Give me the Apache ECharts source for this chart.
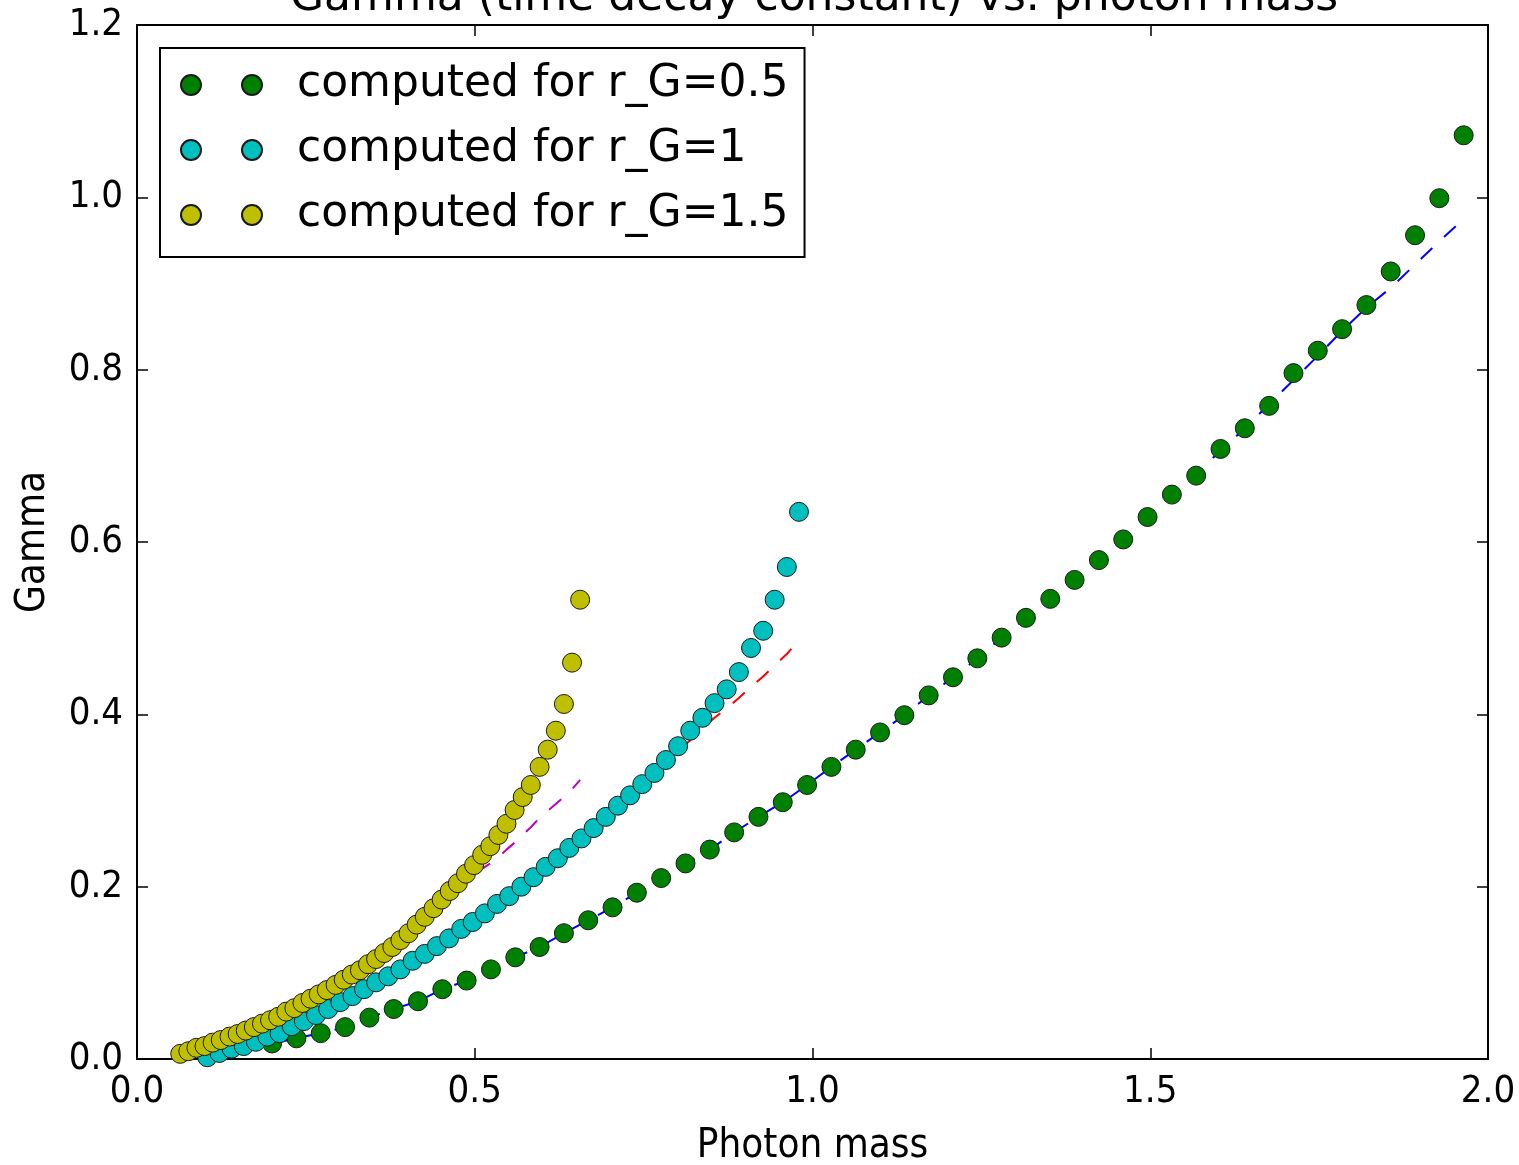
<!DOCTYPE html>
<html>
<head>
<meta charset="utf-8">
<title>Gamma vs photon mass</title>
<script src="https://cdn.jsdelivr.net/npm/echarts@6/dist/echarts.min.js"></script>
<style>
  html, body { margin: 0; padding: 0; background: #fff; }
  #chart { width: 1519px; height: 1165px; }
</style>
</head>
<body>
<div id="chart"></div>
<script>
// r_G = 0.5 (green points, blue dashed fit)
const massG05 = [0.200, 0.236, 0.272, 0.308, 0.344, 0.380, 0.416, 0.452, 0.488, 0.524,
  0.560, 0.596, 0.632, 0.668, 0.704, 0.740, 0.776, 0.812, 0.848, 0.884,
  0.920, 0.956, 0.992, 1.028, 1.064, 1.100, 1.136, 1.172, 1.208, 1.244,
  1.280, 1.316, 1.352, 1.388, 1.424, 1.460, 1.496, 1.532, 1.568, 1.604,
  1.640, 1.676, 1.712, 1.748, 1.784, 1.820, 1.856, 1.892, 1.928, 1.964];
const gammaG05 = [0.018, 0.024, 0.030, 0.037, 0.048, 0.058, 0.067, 0.081, 0.091, 0.104,
  0.118, 0.130, 0.146, 0.161, 0.176, 0.193, 0.210, 0.227, 0.243, 0.263,
  0.281, 0.298, 0.318, 0.339, 0.359, 0.379, 0.399, 0.422, 0.443, 0.465,
  0.489, 0.512, 0.534, 0.556, 0.579, 0.603, 0.629, 0.655, 0.677, 0.708,
  0.732, 0.758, 0.796, 0.822, 0.847, 0.875, 0.914, 0.956, 0.999, 1.072];
const fitG05 = [0.018, 0.024, 0.030, 0.037, 0.048, 0.058, 0.067, 0.081, 0.091, 0.104,
  0.118, 0.130, 0.146, 0.161, 0.176, 0.193, 0.210, 0.227, 0.243, 0.263,
  0.281, 0.298, 0.318, 0.339, 0.359, 0.379, 0.399, 0.422, 0.443, 0.465,
  0.489, 0.512, 0.534, 0.556, 0.579, 0.603, 0.629, 0.655, 0.679, 0.706,
  0.732, 0.760, 0.788, 0.816, 0.845, 0.872, 0.895, 0.922, 0.949, 0.975];

// r_G = 1 (cyan points, red dashed fit)
const massG1 = [0.104, 0.122, 0.140, 0.158, 0.176, 0.193, 0.211, 0.229, 0.247, 0.265,
  0.283, 0.301, 0.319, 0.336, 0.354, 0.372, 0.390, 0.408, 0.426, 0.444,
  0.462, 0.480, 0.497, 0.515, 0.533, 0.551, 0.569, 0.587, 0.605, 0.623,
  0.640, 0.658, 0.676, 0.694, 0.712, 0.730, 0.748, 0.766, 0.783, 0.801,
  0.819, 0.837, 0.855, 0.873, 0.891, 0.909, 0.927, 0.944, 0.962, 0.980];
const gammaG1 = [0.002, 0.007, 0.012, 0.015, 0.020, 0.026, 0.030, 0.038, 0.044, 0.051,
  0.058, 0.066, 0.073, 0.081, 0.089, 0.096, 0.104, 0.114, 0.122, 0.131,
  0.140, 0.151, 0.159, 0.169, 0.180, 0.189, 0.200, 0.211, 0.223, 0.233,
  0.245, 0.256, 0.268, 0.281, 0.294, 0.306, 0.319, 0.332, 0.347, 0.363,
  0.381, 0.396, 0.413, 0.429, 0.449, 0.477, 0.497, 0.533, 0.571, 0.635];
const fitG1 = [0.002, 0.007, 0.012, 0.015, 0.020, 0.026, 0.030, 0.038, 0.044, 0.051,
  0.058, 0.066, 0.073, 0.081, 0.089, 0.096, 0.104, 0.114, 0.122, 0.131,
  0.140, 0.151, 0.159, 0.169, 0.180, 0.189, 0.200, 0.211, 0.223, 0.233,
  0.245, 0.256, 0.268, 0.281, 0.294, 0.306, 0.319, 0.332, 0.345, 0.357,
  0.370, 0.384, 0.396, 0.407, 0.419, 0.432, 0.444, 0.457, 0.470, 0.486];

// r_G = 1.5 (yellow points, magenta dashed fit)
const massG15 = [0.064, 0.076, 0.088, 0.100, 0.112, 0.124, 0.137, 0.149, 0.161, 0.173,
  0.185, 0.197, 0.209, 0.221, 0.233, 0.245, 0.257, 0.269, 0.281, 0.294,
  0.306, 0.318, 0.330, 0.342, 0.354, 0.366, 0.378, 0.390, 0.402, 0.414,
  0.426, 0.439, 0.451, 0.463, 0.475, 0.487, 0.499, 0.511, 0.523, 0.535,
  0.547, 0.559, 0.571, 0.583, 0.596, 0.608, 0.620, 0.632, 0.644, 0.656];
const gammaG15 = [0.006, 0.009, 0.013, 0.015, 0.019, 0.022, 0.026, 0.029, 0.033, 0.037,
  0.041, 0.045, 0.049, 0.055, 0.059, 0.065, 0.070, 0.075, 0.080, 0.086,
  0.092, 0.098, 0.103, 0.110, 0.116, 0.123, 0.130, 0.138, 0.146, 0.156,
  0.165, 0.175, 0.185, 0.195, 0.204, 0.215, 0.225, 0.237, 0.247, 0.260,
  0.273, 0.289, 0.304, 0.318, 0.339, 0.359, 0.381, 0.412, 0.460, 0.533];
const fitG15 = [0.006, 0.009, 0.013, 0.015, 0.019, 0.022, 0.026, 0.029, 0.033, 0.037,
  0.041, 0.045, 0.049, 0.055, 0.059, 0.065, 0.070, 0.075, 0.080, 0.086,
  0.092, 0.098, 0.103, 0.110, 0.116, 0.123, 0.130, 0.138, 0.146, 0.156,
  0.165, 0.175, 0.185, 0.192, 0.198, 0.204, 0.212, 0.221, 0.227, 0.234,
  0.243, 0.251, 0.260, 0.269, 0.280, 0.288, 0.296, 0.304, 0.313, 0.324];

const legendNames = ['computed for r_G=0.5', 'computed for r_G=1', 'computed for r_G=1.5'];
const xTicks = [0, 0.5, 1.0, 1.5, 2.0];
const yTicks = [0, 0.2, 0.4, 0.6, 0.8, 1.0, 1.2];

const NARROW = '"DejaVu Sans Condensed", "DejaVu Sans", sans-serif';
const WIDE = '"DejaVu Sans", sans-serif';

function pairs(xs, ys) {
  return xs.map((x, i) => [x, ys[i]]);
}

// two dots side by side, like the matplotlib legend handle
const twoDots = 'path://M0,10a10,10 0 1,0 20,0a10,10 0 1,0 -20,0zM61,10a10,10 0 1,0 20,0a10,10 0 1,0 -20,0z';

function dotSeries(name, xs, ys, color) {
  return {
    name: name,
    type: 'scatter',
    data: pairs(xs, ys),
    symbol: 'circle',
    symbolSize: 19,
    z: 3,
    itemStyle: { color: color, borderColor: '#1a1a1a', borderWidth: 1, opacity: 1 },
    emphasis: { disabled: true }
  };
}

function fitSeries(xs, ys, color) {
  return {
    type: 'line',
    data: pairs(xs, ys),
    showSymbol: false,
    symbol: 'none',
    z: 2,
    lineStyle: { color: color, width: 2, type: [16, 16] },
    emphasis: { disabled: true }
  };
}

// every axis gets its own frame line and inward ticks
function frame(extra) {
  return Object.assign({
    type: 'value',
    axisLine: { show: true, onZero: false, lineStyle: { color: '#000', width: 2 } },
    axisTick: { show: true, inside: true, length: 11, lineStyle: { color: '#000', width: 1.5 } },
    splitLine: { show: false }
  }, extra);
}

const chart = echarts.init(document.getElementById('chart'), null, { renderer: 'canvas' });

chart.setOption({
  animation: false,
  backgroundColor: '#fff',
  textStyle: { fontFamily: NARROW, color: '#000' },
  title: {
    text: 'Gamma (time decay constant) vs. photon mass',
    left: 290,
    top: -23,
    padding: 0,
    textStyle: { fontFamily: WIDE, fontSize: 44, fontWeight: 'normal', color: '#000' }
  },
  // fixed plot box, do not let labels push it around
  grid: { left: 137, right: 31, top: 25, bottom: 106, containLabel: false, outerBoundsMode: 'none' },
  legend: {
    data: legendNames,
    orient: 'vertical',
    left: 160,
    top: 48,
    itemWidth: 81,
    itemHeight: 20,
    itemGap: 21,
    icon: twoDots,
    padding: [15, 16, 20, 20],
    backgroundColor: '#fff',
    borderColor: '#000',
    borderWidth: 2,
    borderRadius: 0,
    selectedMode: false,
    textStyle: { fontFamily: WIDE, fontSize: 44, lineHeight: 44, color: '#000', padding: [0, 0, 0, 30] }
  },
  xAxis: [
    frame({
      position: 'bottom',
      min: xTicks[0],
      max: xTicks[xTicks.length - 1],
      interval: 0.5,
      name: 'Photon mass',
      nameLocation: 'middle',
      nameGap: 68,
      nameTextStyle: { fontFamily: NARROW, fontSize: 40, color: '#000' },
      axisLabel: { fontFamily: NARROW, fontSize: 38, color: '#000', margin: 14,
        formatter: v => v.toFixed(1) }
    }),
    frame({
      position: 'top',
      min: xTicks[0],
      max: xTicks[xTicks.length - 1],
      interval: 0.5,
      axisLabel: { show: false }
    })
  ],
  yAxis: [
    frame({
      position: 'left',
      min: yTicks[0],
      max: yTicks[yTicks.length - 1],
      interval: 0.2,
      name: 'Gamma',
      nameLocation: 'middle',
      nameGap: 83,
      nameRotate: 90,
      nameTextStyle: { fontFamily: NARROW, fontSize: 40, color: '#000' },
      axisLabel: { fontFamily: NARROW, fontSize: 38, color: '#000', margin: 14,
        formatter: v => v.toFixed(1) }
    }),
    frame({
      position: 'right',
      min: yTicks[0],
      max: yTicks[yTicks.length - 1],
      interval: 0.2,
      axisLabel: { show: false }
    })
  ],
  series: [
    fitSeries(massG05, fitG05, '#0000ff'),
    fitSeries(massG1, fitG1, '#ff0000'),
    fitSeries(massG15, fitG15, '#bf00bf'),
    dotSeries(legendNames[0], massG05, gammaG05, '#008000'),
    dotSeries(legendNames[1], massG1, gammaG1, '#00bfbf'),
    dotSeries(legendNames[2], massG15, gammaG15, '#bfbf00')
  ]
});
</script>
</body>
</html>
